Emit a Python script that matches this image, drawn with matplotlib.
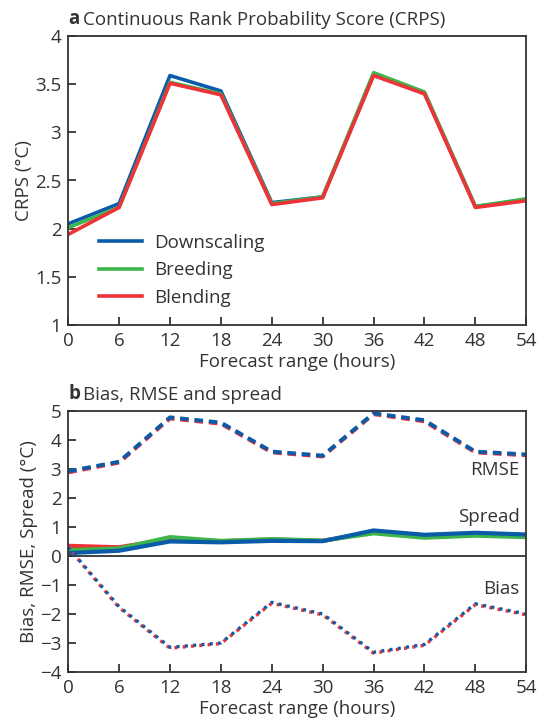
import numpy as np
import matplotlib.pyplot as plt

plt.rcParams['font.family'] = ['Open Sans', 'DejaVu Sans']

hours = [0, 6, 12, 18, 24, 30, 36, 42, 48, 54]

# panel a: CRPS
crps_down = [2.05, 2.26, 3.59, 3.43, 2.27, 2.33, 3.60, 3.41, 2.23, 2.30]
crps_breed = [2.01, 2.22, 3.52, 3.40, 2.26, 2.33, 3.62, 3.42, 2.23, 2.31]
crps_blend = [1.94, 2.22, 3.51, 3.39, 2.25, 2.32, 3.59, 3.40, 2.22, 2.29]

# panel b: RMSE, spread and bias
rmse_down = [2.92, 3.25, 4.78, 4.60, 3.60, 3.46, 4.92, 4.68, 3.60, 3.50]
rmse_blend = [2.88, 3.22, 4.74, 4.56, 3.57, 3.43, 4.89, 4.64, 3.57, 3.47]
spread_down = [0.10, 0.18, 0.50, 0.47, 0.52, 0.51, 0.88, 0.73, 0.80, 0.74]
spread_breed = [0.20, 0.26, 0.65, 0.52, 0.58, 0.53, 0.78, 0.63, 0.70, 0.65]
spread_blend = [0.35, 0.30, 0.59, 0.51, 0.57, 0.52, 0.83, 0.68, 0.75, 0.70]
bias_down = [0.30, -1.75, -3.15, -3.00, -1.60, -2.00, -3.32, -3.05, -1.65, -2.00]
bias_blend = [0.28, -1.78, -3.18, -3.02, -1.63, -2.03, -3.35, -3.08, -1.68, -2.03]

blue = '#0b5ca8'
green = '#3db54a'
red = '#ee3338'
dark = '#333333'
fs = 13.5

fig = plt.figure(figsize=(5.37, 7.22), dpi=100)
ax1 = fig.add_axes([0.127, 0.550, 0.853, 0.400])
ax2 = fig.add_axes([0.127, 0.0693, 0.853, 0.3615])

for ax in (ax1, ax2):
    for s in ax.spines.values():
        s.set_linewidth(1.3)
        s.set_color(dark)
    ax.tick_params(direction='in', length=6, width=1.3, color=dark,
                   labelsize=fs, labelcolor=dark, pad=5)
    ax.set_xlim(0, 54)
    ax.set_xticks(hours)
    ax.set_xlabel('Forecast range (hours)', fontsize=fs, color=dark, labelpad=2)

# panel a
ax1.plot(hours, crps_down, color=blue, lw=2.6, label='Downscaling')
ax1.plot(hours, crps_breed, color=green, lw=2.6, label='Breeding')
ax1.plot(hours, crps_blend, color=red, lw=2.6, label='Blending')
ax1.set_ylim(1, 4)
ax1.set_yticks([1, 1.5, 2, 2.5, 3, 3.5, 4])
ax1.set_yticklabels(['1', '1.5', '2', '2.5', '3', '3.5', '4'])
ax1.set_ylabel('CRPS (°C)', fontsize=fs, color=dark, labelpad=1)
ax1.legend(loc='lower left', bbox_to_anchor=(0.03, 0.005), frameon=False,
           fontsize=fs, handlelength=2.3, handletextpad=0.65, labelspacing=0.5,
           labelcolor=dark)

# panel b
ax2.axhline(0, color=dark, lw=1.3)
ax2.plot(hours, rmse_blend, color=red, lw=2.8, ls=(0, (2.2, 1.5)))
ax2.plot(hours, rmse_down, color=blue, lw=2.8, ls=(0, (2.2, 1.5)))
ax2.plot(hours, spread_blend, color=red, lw=3)
ax2.plot(hours, spread_breed, color=green, lw=3)
ax2.plot(hours, spread_down, color=blue, lw=3)
ax2.plot(hours, bias_blend, color=red, lw=2.4, ls=(0.6, (0.9, 1.6)))
ax2.plot(hours, bias_down, color=blue, lw=2.4, ls=(0, (0.9, 1.6)))
ax2.set_ylim(-4, 5)
ax2.set_yticks(range(-4, 6))
ax2.set_yticklabels(['\u22124', '\u22123', '\u22122', '\u22121', '0', '1', '2', '3', '4', '5'])
ax2.set_ylabel('Bias, RMSE, Spread (°C)', fontsize=fs, color=dark, labelpad=1)
ax2.text(0.985, 0.774, 'RMSE', transform=ax2.transAxes, ha='right', va='center',
         fontsize=fs, color=dark)
ax2.text(0.985, 0.594, 'Spread', transform=ax2.transAxes, ha='right', va='center',
         fontsize=fs, color=dark)
ax2.text(0.985, 0.318, 'Bias', transform=ax2.transAxes, ha='right', va='center',
         fontsize=fs, color=dark)

# panel titles
for ax, letter, title in ((ax1, 'a', 'Continuous Rank Probability Score (CRPS)'),
                          (ax2, 'b', 'Bias, RMSE and spread')):
    ax.annotate(letter, (0, 1), xycoords='axes fraction', xytext=(0, 5),
                textcoords='offset points', fontsize=fs, fontweight='bold',
                color=dark, ha='left', va='bottom')
    ax.annotate(title, (0, 1), xycoords='axes fraction', xytext=(11, 5),
                textcoords='offset points', fontsize=fs, color=dark,
                ha='left', va='bottom')

fig.savefig('out.png', dpi=100)
